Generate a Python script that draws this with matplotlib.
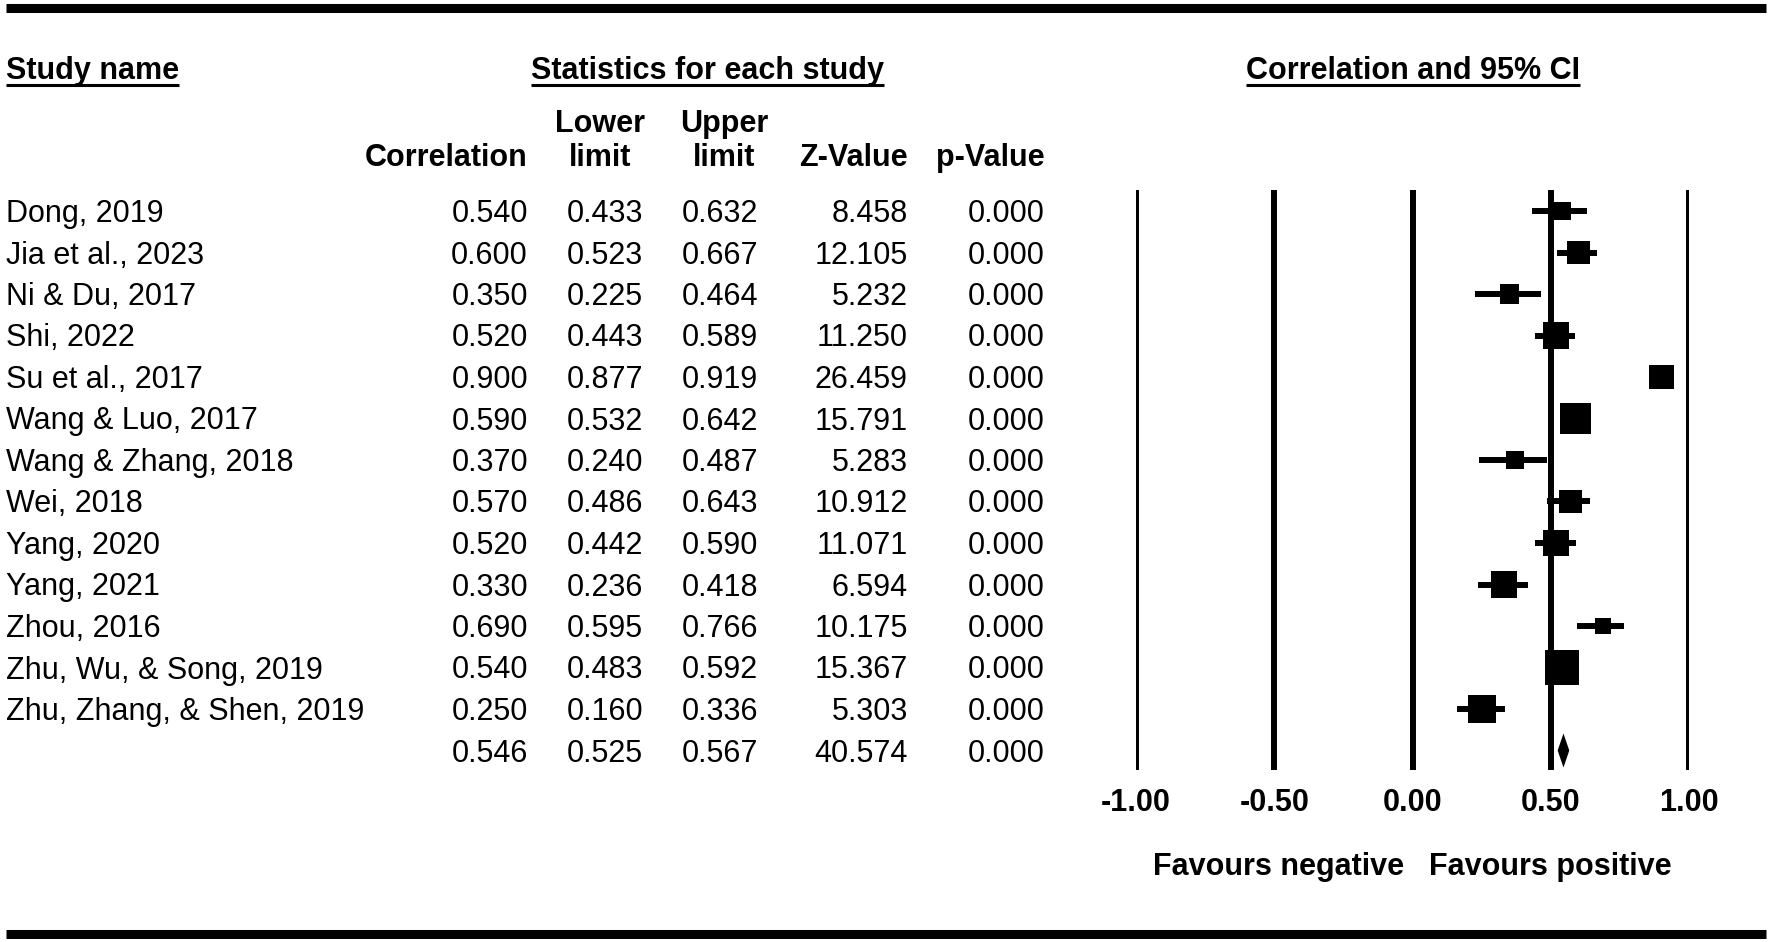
import matplotlib.pyplot as plt
from matplotlib.lines import Line2D
import numpy as np

plt.rcParams['font.family'] = ['Liberation Sans', 'DejaVu Sans']

# data
studies = ['Dong, 2019', 'Jia et al., 2023', 'Ni & Du, 2017', 'Shi, 2022',
           'Su et al., 2017', 'Wang & Luo, 2017', 'Wang & Zhang, 2018',
           'Wei, 2018', 'Yang, 2020', 'Yang, 2021', 'Zhou, 2016',
           'Zhu, Wu, & Song, 2019', 'Zhu, Zhang, & Shen, 2019']
corr = [0.540, 0.600, 0.350, 0.520, 0.900, 0.590, 0.370, 0.570, 0.520, 0.330, 0.690, 0.540, 0.250]
lower = [0.433, 0.523, 0.225, 0.443, 0.877, 0.532, 0.240, 0.486, 0.442, 0.236, 0.595, 0.483, 0.160]
upper = [0.632, 0.667, 0.464, 0.589, 0.919, 0.642, 0.487, 0.643, 0.590, 0.418, 0.766, 0.592, 0.336]
zval = [8.458, 12.105, 5.232, 11.250, 26.459, 15.791, 5.283, 10.912, 11.071, 6.594, 10.175, 15.367, 5.303]
pval = [0.000] * 13
summary = [0.546, 0.525, 0.567, 40.574, 0.000]
xticks = [-1.0, -0.5, 0.0, 0.5, 1.0]

W, H = 1772, 942
fig = plt.figure(figsize=(W / 100, H / 100), dpi=100)
page = fig.add_axes([0, 0, 1, 1])
page.set_xlim(0, W)
page.set_ylim(H, 0)
page.axis('off')

fs = 22
row0, step = 211, 41.5
def row_y(i):
    return row0 + step * i

# borders
page.plot([6, 1766], [7.5, 7.5], color='black', lw=6.5, solid_capstyle='butt')
page.plot([6, 1766], [934, 934], color='black', lw=6.5, solid_capstyle='butt')

# group headers (underlined)
group = []
group.append(page.text(6, 79, 'Study name', fontsize=fs, fontweight='bold', ha='left', va='baseline'))
group.append(page.text(708, 79, 'Statistics for each study', fontsize=fs, fontweight='bold', ha='center', va='baseline'))
group.append(page.text(1413, 79, 'Correlation and 95% CI', fontsize=fs, fontweight='bold', ha='center', va='baseline'))

# column headers
page.text(528, 166, 'Correlation', fontsize=fs, fontweight='bold', ha='right', va='baseline')
page.text(600, 132, 'Lower', fontsize=fs, fontweight='bold', ha='center', va='baseline')
page.text(600, 166, 'limit', fontsize=fs, fontweight='bold', ha='center', va='baseline')
page.text(724, 132, 'Upper', fontsize=fs, fontweight='bold', ha='center', va='baseline')
page.text(724, 166, 'limit', fontsize=fs, fontweight='bold', ha='center', va='baseline')
page.text(908, 166, 'Z-Value', fontsize=fs, fontweight='bold', ha='right', va='baseline')
page.text(1045, 166, 'p-Value', fontsize=fs, fontweight='bold', ha='right', va='baseline')

col_right = [528, 643, 758, 908, 1045]

rows = list(zip(corr, lower, upper, zval, pval))
for i, name in enumerate(studies):
    yb = row_y(i) + 11
    page.text(6, yb, name, fontsize=fs, ha='left', va='baseline')
    for xr, v in zip(col_right, rows[i]):
        page.text(xr, yb, f'{v:.3f}', fontsize=fs, ha='right', va='baseline')
yb = row_y(len(studies)) + 11
for xr, v in zip(col_right, summary):
    page.text(xr, yb, f'{v:.3f}', fontsize=fs, ha='right', va='baseline')

# forest panel: -1 -> px 1136, 1 -> px 1689, lines from px 190 to 770
top_px, bot_px = 190, 770
ax = fig.add_axes([1136 / W, 1 - bot_px / H, (1689 - 1136) / W, (bot_px - top_px) / H])
ax.set_xlim(-1, 1)
ax.set_ylim((bot_px - row0) / step, (top_px - row0) / step)
ax.axis('off')

for xt in xticks:
    ax.axvline(xt, color='black', lw=4.3, solid_capstyle='butt', zorder=1)
    ax.text(xt, -(811 - bot_px) / (bot_px - top_px), f'{xt:.2f}', transform=ax.get_xaxis_transform(),
            fontsize=fs, fontweight='bold', ha='center', va='baseline')

idx = np.arange(len(studies))
ax.hlines(idx, lower, upper, color='black', lw=4.3, zorder=2)
# box area proportional to study weight (n - 3 recovered from Z and r)
weight = (np.array(zval) / np.arctanh(np.array(corr))) ** 2
ax.scatter(corr, idx, s=weight * 0.95, marker='s', color='black', linewidths=0, zorder=3, clip_on=False)

k = len(studies)
r_s, lo_s, hi_s = summary[0], summary[1], summary[2]
ax.fill([lo_s, r_s, hi_s, r_s], [k, k - 0.41, k, k + 0.41], color='black', lw=0, zorder=3, clip_on=False)

page.text(1404, 875, 'Favours negative', fontsize=fs, fontweight='bold', ha='right', va='baseline')
page.text(1429, 875, 'Favours positive', fontsize=fs, fontweight='bold', ha='left', va='baseline')

# underline the group headers
fig.canvas.draw()
inv = page.transData.inverted()
for t in group:
    bb = t.get_window_extent()
    x0, _ = inv.transform((bb.x0, bb.y0))
    x1, _ = inv.transform((bb.x1, bb.y0))
    page.plot([x0, x1], [84.5, 84.5], color='black', lw=2.2, solid_capstyle='butt')

fig.savefig('out.png', dpi=100)
